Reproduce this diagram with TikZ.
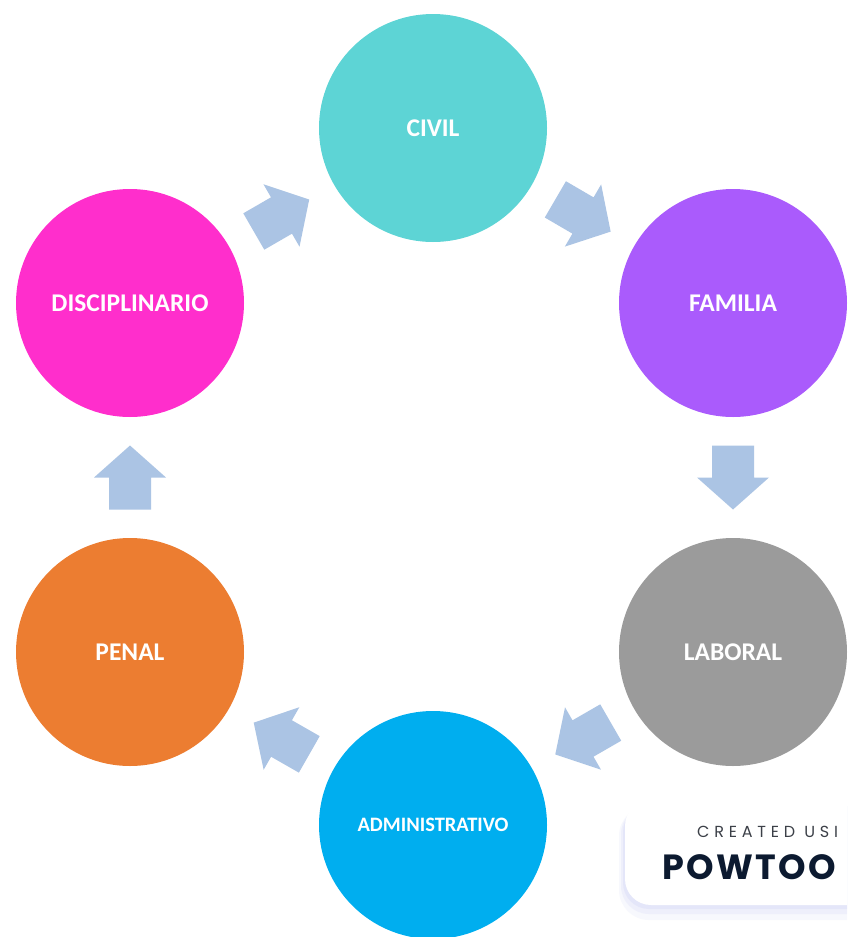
\documentclass[tikz,border=0pt]{standalone}
\usepackage{fontspec}
\setmainfont{Carlito}
\newfontfamily\pfont[LetterSpace=30]{Poppins}
\newfontfamily\pbold[LetterSpace=7]{Poppins}
\usetikzlibrary{calc}
\definecolor{civilc}{RGB}{93,212,213}
\definecolor{famc}{RGB}{170,91,252}
\definecolor{labc}{RGB}{155,155,155}
\definecolor{admc}{RGB}{0,174,239}
\definecolor{penc}{RGB}{236,125,49}
\definecolor{discc}{RGB}{255,46,204}
\definecolor{arrc}{RGB}{171,196,228}
\definecolor{shc}{RGB}{218,221,248}
\definecolor{navyc}{RGB}{12,26,48}
\definecolor{grayc}{RGB}{60,64,72}
\tikzset{
  circ/.style={circle, minimum size=228pt, inner sep=0pt, text=white,
    font=\bfseries\fontsize{25.5}{25.5}\selectfont},
  blk/.style={fill=arrc},
}
% block arrow connector from node #1 to node #2, centred between them
\newcommand\blkarrow[2]{%
  \coordinate (m) at ($(#1)!0.5!(#2)$);
  \fill[blk]
    ($(m)!32pt!(#1)!21pt!90:(#2)$) --
    ($(m)!21pt!90:(#2)$) --
    ($(m)!36pt!90:(#2)$) --
    ($(m)!32pt!(#2)$) --
    ($(m)!36pt!-90:(#2)$) --
    ($(m)!21pt!-90:(#2)$) --
    ($(m)!32pt!(#1)!21pt!-90:(#2)$) -- cycle;}
\begin{document}
\begin{tikzpicture}[x=1pt,y=-1pt]
\useasboundingbox (0,0) rectangle (847,937);
\clip (0,0) rectangle (847,937);
\fill[white] (0,0) rectangle (847,937);

\node[circ, fill=civilc] (civil) at (433,128) {CIVIL};
\node[circ, fill=famc] (fam) at (733,303) {FAMILIA};
\node[circ, fill=labc] (lab) at (733,652) {LABORAL};
\node[circ, fill=admc, font=\bfseries\fontsize{20.5}{20.5}\selectfont] (adm) at (433,825) {ADMINISTRATIVO};
\node[circ, fill=penc] (pen) at (130,652) {PENAL};
\node[circ, fill=discc] (disc) at (130,303) {DISCIPLINARIO};

\blkarrow{disc}{civil}
\blkarrow{civil}{fam}
\blkarrow{fam}{lab}
\blkarrow{lab}{adm}
\blkarrow{adm}{pen}
\blkarrow{pen}{disc}

% watermark
\fill[shc, opacity=0.2, rounded corners=30pt] (619,806) rectangle (900,920);
\fill[shc, opacity=0.3, rounded corners=28pt] (621,806) rectangle (900,914);
\fill[shc, opacity=0.45, rounded corners=26pt] (623,806) rectangle (900,909);
\fill[white, rounded corners=26pt] (625,800) rectangle (900,905);
\node[anchor=west, inner sep=0pt, text=grayc, font=\pfont\fontsize{16}{16}\selectfont] (cr) at (697,832) {CREATED USI};
\node[anchor=west, inner sep=0pt, text=navyc, font=\pbold\bfseries\fontsize{35}{35}\selectfont] (pw) at (662,867) {POWTOO};
\end{tikzpicture}
\end{document}
